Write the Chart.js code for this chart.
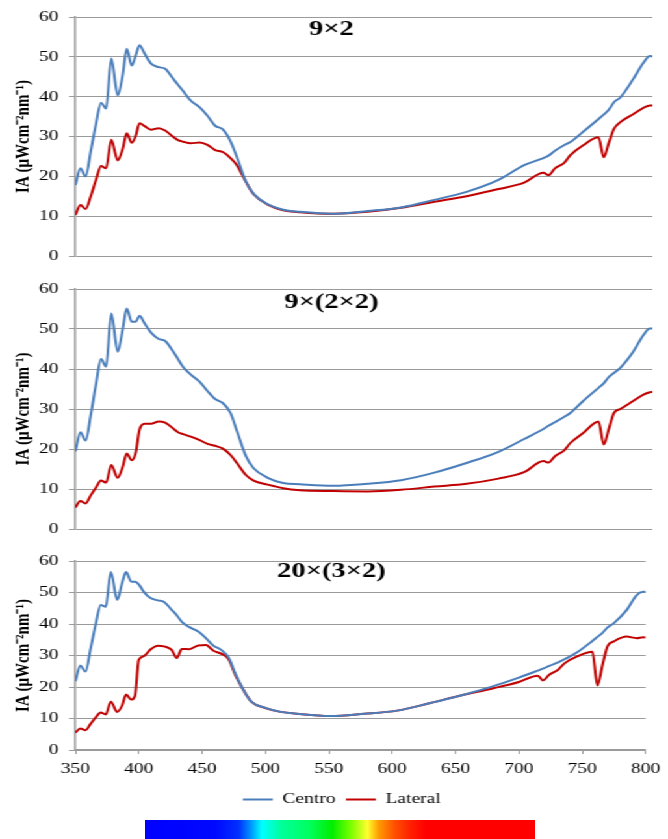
<!DOCTYPE html>
<html>
<head>
<meta charset="utf-8">
<script src="https://cdn.jsdelivr.net/npm/chart.js@4.4.0/dist/chart.umd.min.js"></script>
<style>
  body { margin: 0; background: #fff; width: 668px; height: 839px; overflow: hidden; position: relative; }
  /* the original figure is stretched sideways, so draw narrow and widen */
  #stretch { position: absolute; left: 0; top: 0; width: 514px; height: 839px; transform: scaleX(1.2996); transform-origin: 0 0; }
  #stretch canvas { position: absolute; left: 0; }
  #spectrum { position: absolute; left: 145px; top: 820px; width: 390px; height: 19px;
    background: linear-gradient(to right, #0000ff 0%, #0008ff 18%, #0030ff 24%, #0090ff 27%, #00ffff 30%,
      #00ff99 35%, #00ff60 42%, #00ee00 48%, #80ff00 53%, #ffff30 57%, #ff9900 60%, #ff5000 64%,
      #ff2000 68%, #ff0000 72%, #ff0000 100%); }
</style>
</head>
<body>
<div id="stretch">
  <canvas id="c1" width="514" height="273" style="top:0px"></canvas>
  <canvas id="c2" width="514" height="274" style="top:272px"></canvas>
  <canvas id="c3" width="514" height="273" style="top:544px"></canvas>
</div>
<div id="spectrum"></div>
<script>
// wavelength (nm)
const wl = [350, 354, 358, 362, 366, 370, 374, 378, 383, 387,
  390, 394, 397, 400, 404, 409, 415, 420, 426, 430, 434, 440,
  447, 453, 459, 465, 471, 476, 483, 489, 500, 512, 525, 551,
  578, 604, 630, 655, 680, 700, 715, 719, 724, 731, 736, 746,
  758, 762, 766, 770, 775, 785, 793, 798, 800];

// 9x2
const centro1 = [17.8, 22, 20, 26.3, 33, 38.5, 37, 49.6, 40.3, 45.6,
  52, 47.8, 50.3, 52.9, 50.8, 48.3, 47.4, 47, 44.6, 43, 41.4, 39,
  37.3, 35.2, 32.7, 31.8, 28.8, 24.8, 18.7, 15.6, 13, 11.6, 11.1, 10.6,
  11.3, 12.2, 14.1, 16.1, 19.1, 22.8, 24.6, 25.2, 26.4, 27.8, 28.6, 31.2,
  34.4, 35.5, 36.7, 38.6, 39.8, 44.4, 48.5, 50.2, 50.1];
const lateral1 = [10.3, 12.8, 11.8, 15, 19, 22.6, 22, 29.2, 24, 27,
  30.8, 28.4, 30.1, 33.3, 32.6, 31.7, 32.1, 31.5, 30, 29.1, 28.7, 28.3,
  28.5, 27.9, 26.6, 26.1, 24.6, 22.8, 18.6, 15.5, 12.9, 11.5, 11, 10.6,
  11.1, 12.1, 13.6, 15, 16.8, 18.4, 20.9, 20.3, 22, 23.3, 25.3, 27.8,
  29.8, 24.8, 28.4, 31.9, 33.6, 35.6, 37.2, 37.8, 37.8];

// 9x(2x2)
const centro2 = [19.4, 24.2, 22.1, 28.5, 36, 42.5, 40.6, 53.9, 44.3, 50.1,
  55.1, 51.8, 51.8, 53.3, 51.4, 49.1, 47.5, 47, 44.5, 42.5, 40.5, 38.6,
  36.8, 34.5, 32.5, 31.5, 29, 24.5, 18.2, 15.2, 12.8, 11.5, 11.2, 10.8,
  11.3, 12.2, 14.1, 16.5, 19.3, 22.5, 25, 25.8, 26.7, 28, 29, 32,
  35.3, 36.4, 38, 39, 40.3, 44.3, 48.5, 50.1, 50.1];
const lateral2 = [5.4, 7, 6.4, 8.4, 10.3, 12.1, 11.6, 16, 12.8, 15.6,
  18.9, 17.2, 19, 24.8, 26.3, 26.3, 26.9, 26.6, 25.2, 24.2, 23.7, 23.1,
  22.2, 21.3, 20.8, 20.1, 18.5, 16.5, 13.5, 12.1, 11.1, 10.2, 9.7, 9.5,
  9.4, 9.8, 10.6, 11.3, 12.6, 14.2, 17, 16.6, 18.2, 19.6, 21.5, 24,
  26.9, 21.1, 25, 29, 30, 32, 33.6, 34.2, 34.3];

// 20x(3x2)
const centro3 = [21.8, 26.8, 24.9, 32.1, 39.8, 46, 45.5, 56.5, 47.6, 53.2,
  56.5, 53.5, 53.4, 52.6, 50.2, 48.3, 47.5, 47, 44.5, 42.8, 40.7, 39,
  37.6, 35.5, 33.1, 31.8, 29.3, 24.5, 18.8, 15.3, 13.4, 12.1, 11.5, 10.8,
  11.5, 12.5, 14.9, 17.4, 20.3, 23, 25.2, 25.8, 26.7, 27.8, 28.8, 31,
  34.6, 35.9, 37.2, 38.9, 40.3, 44.4, 49.2, 50.2, 50.2];
const lateral3 = [5.5, 6.8, 6.3, 8.3, 10.3, 11.9, 11.3, 15.3, 12.1, 14.2,
  17.6, 16, 17.1, 28.6, 29.8, 31.8, 33.1, 32.9, 31.8, 29.2, 32.1, 32,
  33.2, 33.3, 31.5, 30.6, 28.8, 24, 18.8, 15.3, 13.3, 12.1, 11.5, 10.8,
  11.5, 12.5, 14.9, 17.4, 19.6, 21.6, 23.6, 22.1, 23.9, 25.5, 27.5, 29.7,
  31.2, 20.5, 27, 33, 34.5, 36, 35.5, 35.8, 35.7];

const yTicks = [0, 10, 20, 30, 40, 50, 60];
const xTicks = [350, 400, 450, 500, 550, 600, 650, 700, 750, 800];

const BLUE = '#4a7ebb';
const RED = '#c00000';
const GRID = '#9a9a9a';
const SERIF = "'Liberation Serif', 'Times New Roman', serif";

const panelTitle = {
  id: 'panelTitle',
  afterLayout(chart) {
    // nudge the legend a little right, like the original
    if (chart.legend && chart.options.plugins.legend.display) {
      chart.legend.left += 12;
      chart.legend.right += 12;
    }
  },
  afterDraw(chart, args, opts) {
    const ctx = chart.ctx;
    ctx.save();
    ctx.font = 'bold 22px ' + SERIF;
    ctx.fillStyle = '#000';
    ctx.textAlign = 'center';
    ctx.textBaseline = 'middle';
    ctx.fillText(opts.text, 255, chart.chartArea.top + opts.dy);
    ctx.restore();
  }
};

function panel(id, title, dy, centro, lateral, bottom) {
  new Chart(document.getElementById(id), {
    type: 'line',
    data: {
      datasets: [
        { label: 'Centro', data: wl.map((x, i) => ({ x: x, y: centro[i] })), borderColor: BLUE, backgroundColor: BLUE,
          pointStyle: 'line', pointBorderWidth: 2 },
        { label: 'Lateral', data: wl.map((x, i) => ({ x: x, y: lateral[i] })), borderColor: RED, backgroundColor: RED,
          pointStyle: 'line', pointBorderWidth: 2 }
      ]
    },
    options: {
      responsive: false,
      animation: false,
      layout: { padding: { top: 15, right: 12, bottom: bottom ? 0 : 10, left: 0 } },
      elements: {
        point: { radius: 0 },
        line: { borderWidth: 2, cubicInterpolationMode: 'monotone' }
      },
      scales: {
        x: {
          type: 'linear', min: 350, max: 800, display: bottom,
          afterBuildTicks: s => { s.ticks = xTicks.map(v => ({ value: v })); },
          ticks: { color: '#000', padding: 6, maxRotation: 0, font: { family: SERIF, size: 15 } },
          grid: { drawOnChartArea: false, tickLength: 4, color: GRID },
          border: { color: GRID, width: 1.5 }
        },
        y: {
          min: 0, max: 60,
          afterBuildTicks: s => { s.ticks = yTicks.map(v => ({ value: v })); },
          afterFit: s => { s.width = 58; },
          ticks: { color: '#000', padding: 8, font: { family: SERIF, size: 15 } },
          grid: { color: GRID, tickLength: 5 },
          border: { color: GRID, width: 1.5 },
          title: { display: true, text: 'IA (μWcm⁻²nm⁻¹)', color: '#000', padding: { top: 9, bottom: 0 },
            font: { family: SERIF, size: 15, weight: 'bold' } }
        }
      },
      plugins: {
        legend: {
          display: bottom, position: 'bottom',
          labels: { usePointStyle: true, pointStyleWidth: 23, boxHeight: 15, padding: 8, color: '#000',
            font: { family: SERIF, size: 15 } }
        },
        tooltip: { enabled: false },
        panelTitle: { text: title, dy: dy }
      }
    },
    plugins: [panelTitle]
  });
}

panel('c1', '9×2', 12, centro1, lateral1, false);
panel('c2', '9×(2×2)', 13, centro2, lateral2, false);
panel('c3', '20×(3×2)', 10, centro3, lateral3, true);
</script>
</body>
</html>
